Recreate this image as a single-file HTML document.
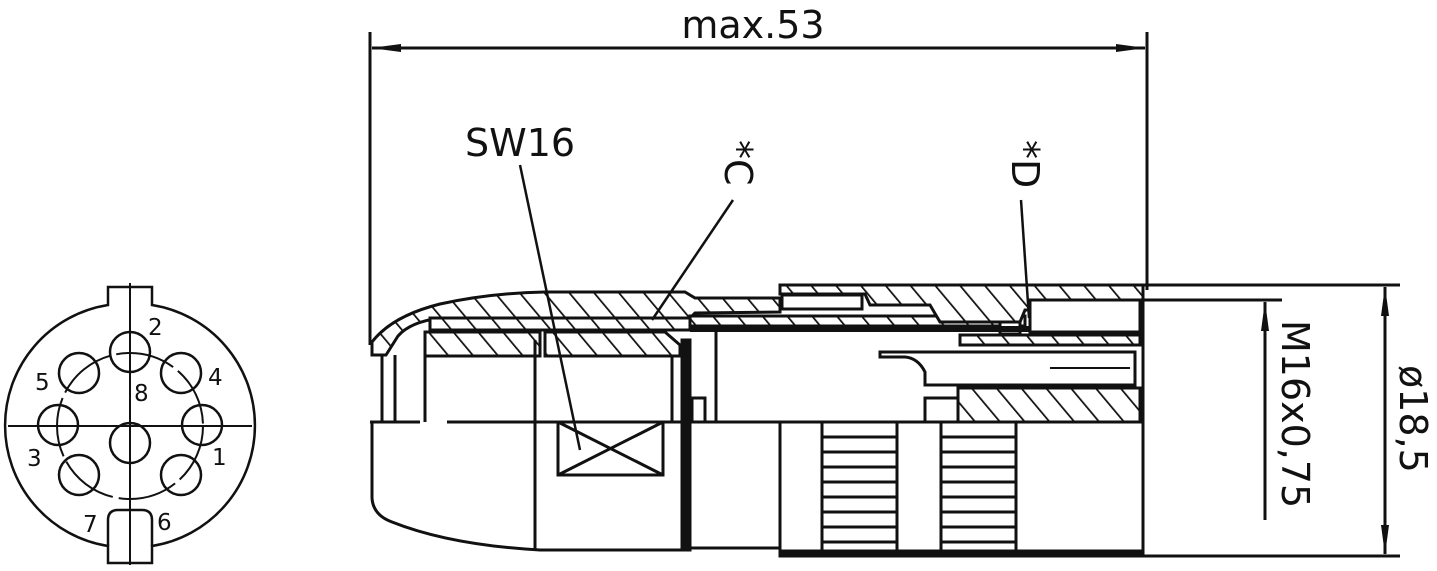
<!DOCTYPE html>
<html><head><meta charset="utf-8"><style>
html,body{margin:0;padding:0;background:#fff;}
svg{display:block;}
text{font-family:"DejaVu Sans","Liberation Sans",sans-serif;fill:#111;}
</style></head><body>
<svg width="1437" height="571" viewBox="0 0 1437 571" xmlns="http://www.w3.org/2000/svg">
<defs>
<pattern id="h" patternUnits="userSpaceOnUse" width="19" height="19" patternTransform="rotate(-40)">
<rect width="19" height="19" fill="#fff"/><line x1="0" y1="0" x2="0" y2="19" stroke="#111" stroke-width="3.5"/>
</pattern>
<marker id="b" markerWidth="30" markerHeight="12" refX="29" refY="6" orient="auto-start-reverse" markerUnits="userSpaceOnUse"><path d="M0,2 L30,6 L0,10 Z" fill="#111"/></marker>
</defs>
<g stroke="#111" fill="none" stroke-width="2.5">
<path d="M108,305 L108,287 L152,287 L152,305 A122,122 0 0 1 152,546 L152,563 L108,563 L108,546 A122,122 0 0 1 108,305 Z"/>
<path d="M108,546 L108,520 Q108,510 118,510 L142,510 Q152,510 152,520 L152,546" />
<line x1="130" y1="283" x2="130" y2="565" stroke-width="2"/>
<line x1="8" y1="426" x2="252" y2="426" stroke-width="2"/>
<circle cx="130" cy="426" r="73" stroke-width="2" stroke-dasharray="60 6"/>
<circle cx="130" cy="352" r="20"/><circle cx="181" cy="373" r="20"/><circle cx="202" cy="425" r="20"/>
<circle cx="181" cy="475" r="20"/><circle cx="79" cy="475" r="20"/><circle cx="58" cy="425" r="20"/>
<circle cx="79" cy="373" r="20"/><circle cx="130" cy="443" r="20"/>
</g>
<g font-size="23">
<text x="148" y="335">2</text><text x="35" y="390">5</text><text x="208" y="385">4</text><text x="134" y="401">8</text>
<text x="27" y="466">3</text><text x="212" y="465">1</text><text x="83" y="532">7</text><text x="157" y="530">6</text>
</g>

<g stroke="#111" stroke-width="3" fill="none">
<line x1="370" y1="32" x2="370" y2="345"/>
<line x1="1147" y1="32" x2="1147" y2="290"/>
<line x1="372" y1="48" x2="1145" y2="48" marker-start="url(#b)" marker-end="url(#b)"/>
</g>
<text x="753" y="38" font-size="38" text-anchor="middle">max.53</text>

<g stroke="#111" stroke-width="3" fill="url(#h)">
<path d="M372,355 L372,342 Q392,316 440,304 Q490,293 545,292 L685,292 L695,298 L780,298 L780,312 L695,313 L690,318 L440,318 Q410,322 398,336 L386,355 Z"/>
<path d="M430,318 L690,318 L690,330 L430,330 Z"/>
<path d="M425,332 L540,332 L540,356 L425,356 Z"/>
<path d="M545,332 L665,332 L680,345 L680,356 L545,356 Z"/>
<path d="M690,316 L1025,316 L1025,326 L690,326 Z"/>
<path d="M780,285 L1143,285 L1143,310 L1025,310 L1020,322 L940,322 L930,305 L870,305 L865,294 L780,294 Z"/>
<path d="M960,335 L1140,335 L1140,345 L960,345 Z"/>
<path d="M958,388 L1140,388 L1140,422 L958,422 Z"/>
</g>
<g stroke="#111" stroke-width="3" fill="#fff">
<rect x="782" y="295" width="80" height="14"/>
<rect x="1030" y="300" width="110" height="32"/>
<rect x="1000" y="322" width="20" height="12"/>
</g>
<g stroke="#111" fill="none" stroke-width="3">
<line x1="690" y1="329" x2="1030" y2="329" stroke-width="6"/>
<path d="M880,352 L1135,352 L1135,385 L925,385 L925,372 Q918,358 905,357 L880,357 Z"/>
<line x1="1050" y1="368" x2="1130" y2="368" stroke-width="2"/>
<rect x="925" y="398" width="33" height="24"/>
<line x1="382" y1="355" x2="382" y2="422"/>
<line x1="395" y1="355" x2="395" y2="422"/>
<line x1="425" y1="340" x2="425" y2="422"/>
<line x1="535" y1="340" x2="535" y2="550"/>
<line x1="672" y1="356" x2="672" y2="422"/>
<rect x="682" y="340" width="8" height="210" fill="#111"/>
<path d="M692,422 L692,398 L705,398 L705,422"/>
<line x1="716" y1="330" x2="716" y2="422"/>
<line x1="1143" y1="285" x2="1143" y2="556"/>
<line x1="370" y1="422" x2="420" y2="422"/>
<line x1="447" y1="422" x2="1143" y2="422"/>
<path d="M372,422 L372,498 Q373,515 392,522 Q450,545 540,550 L682,550"/>
<path d="M690,548 L780,548 L780,422"/>
<rect x="780" y="422" width="363" height="134"/>
<line x1="780" y1="552" x2="1143" y2="552" stroke-width="5"/>
<rect x="558" y="422" width="105" height="53"/>
<line x1="558" y1="475" x2="663" y2="422"/><line x1="558" y1="422" x2="663" y2="475"/>
<rect x="822" y="422" width="75" height="134"/>
<rect x="941" y="422" width="75" height="134"/>
</g>
<g stroke="#111" stroke-width="3">
<line x1="822" y1="437" x2="897" y2="437"/><line x1="822" y1="452" x2="897" y2="452"/><line x1="822" y1="467" x2="897" y2="467"/><line x1="822" y1="482" x2="897" y2="482"/><line x1="822" y1="497" x2="897" y2="497"/><line x1="822" y1="512" x2="897" y2="512"/><line x1="822" y1="527" x2="897" y2="527"/><line x1="822" y1="542" x2="897" y2="542"/>
<line x1="941" y1="437" x2="1016" y2="437"/><line x1="941" y1="452" x2="1016" y2="452"/><line x1="941" y1="467" x2="1016" y2="467"/><line x1="941" y1="482" x2="1016" y2="482"/><line x1="941" y1="497" x2="1016" y2="497"/><line x1="941" y1="512" x2="1016" y2="512"/><line x1="941" y1="527" x2="1016" y2="527"/><line x1="941" y1="542" x2="1016" y2="542"/>
</g>
<g stroke="#111" stroke-width="2.5">
<line x1="520" y1="165" x2="580" y2="450"/>
<line x1="733" y1="200" x2="652" y2="320"/>
<line x1="1021" y1="200" x2="1029" y2="318"/>
</g>
<text x="465" y="156" font-size="38">SW16</text>
<text transform="translate(725,140) rotate(90)" font-size="38">*C</text>
<text transform="translate(1012,140) rotate(90)" font-size="38">*D</text>
<g stroke="#111" stroke-width="3" fill="none">
<line x1="1143" y1="285" x2="1400" y2="285"/>
<line x1="1143" y1="300" x2="1282" y2="300"/>
<line x1="1143" y1="556" x2="1400" y2="556"/>
<line x1="1265" y1="520" x2="1265" y2="302" marker-end="url(#b)"/>
<line x1="1385" y1="287" x2="1385" y2="554" marker-start="url(#b)" marker-end="url(#b)"/>
</g>
<text transform="translate(1282,320) rotate(90)" font-size="38">M16x0,75</text>
<text transform="translate(1400,365) rotate(90)" font-size="38">ø18,5</text>
</svg>
</body></html>
